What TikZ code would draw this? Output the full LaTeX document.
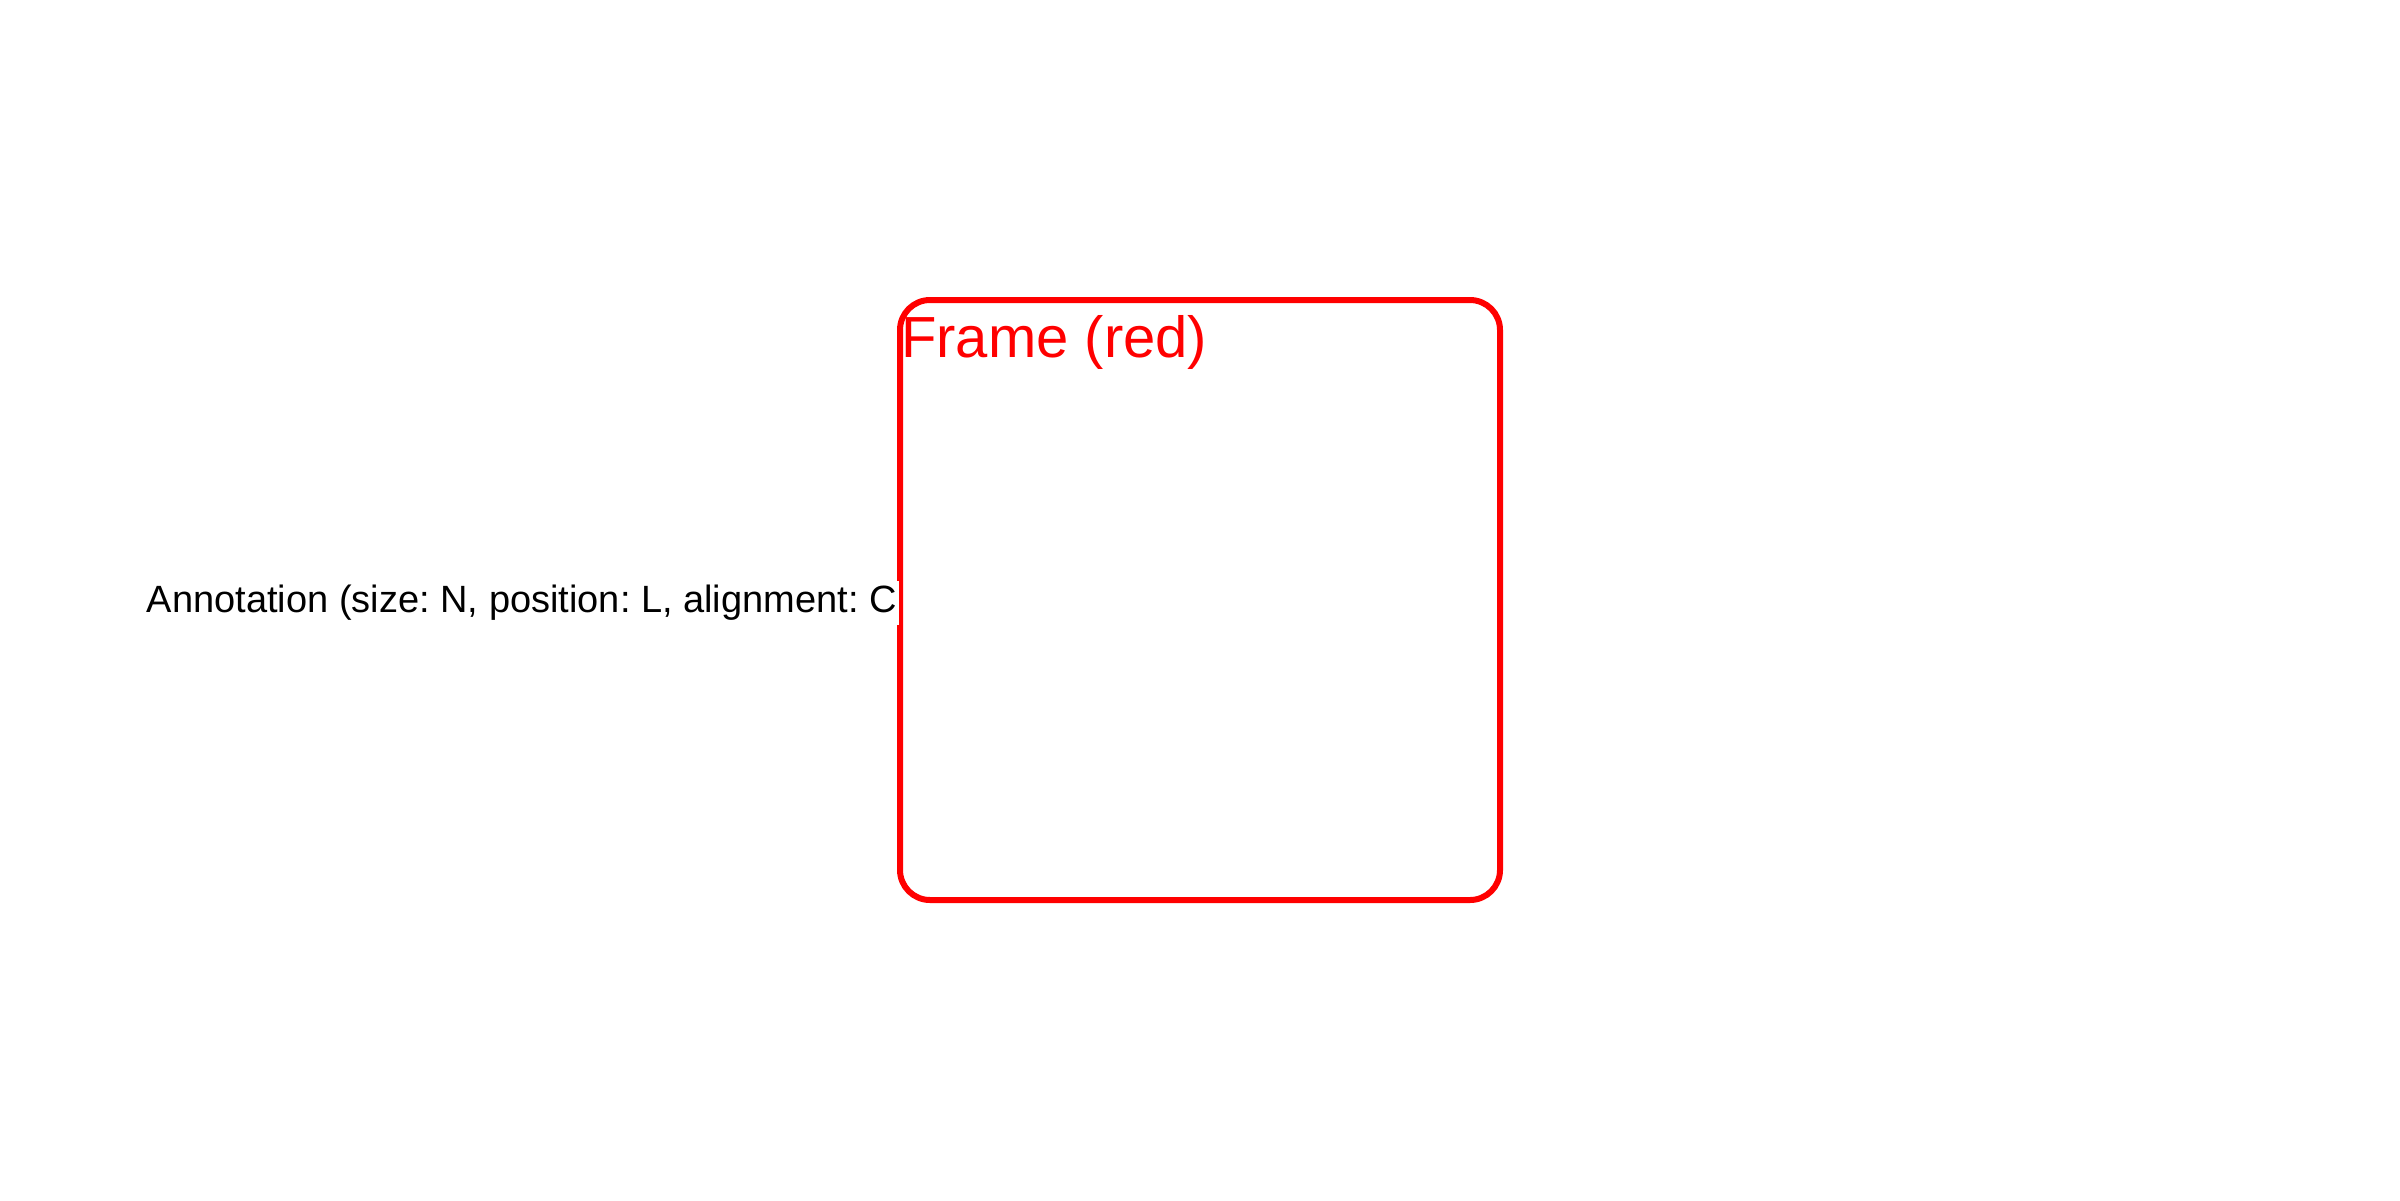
\documentclass[tikz,border=0pt]{standalone}
\usepackage{fontspec}
\setmainfont{Liberation Sans}
\frenchspacing
\begin{document}
\begin{tikzpicture}[x=1pt,y=-1pt,
  framebox/.style={draw=red, line width=6pt, rounded corners=30pt, minimum width=600pt, minimum height=600pt, inner sep=0pt},
  frametitle/.style={text=red, inner sep=0pt, font=\fontsize{58pt}{70pt}\selectfont},
  annot/.style={fill=white, inner xsep=2pt, inner ysep=0pt, minimum height=44pt, font=\fontsize{38pt}{45pt}\selectfont\frenchspacing}]
\useasboundingbox (0,0) rectangle (2400,1200);
\node[framebox] (frame) at (1200,600) {};
\node[frametitle, anchor=base west] (title) at (901,357) {Frame (red)};
\node[annot, anchor=east] (ann) at (899,603) {Annotation (size: N, position: L, alignment: C};
\end{tikzpicture}
\end{document}
